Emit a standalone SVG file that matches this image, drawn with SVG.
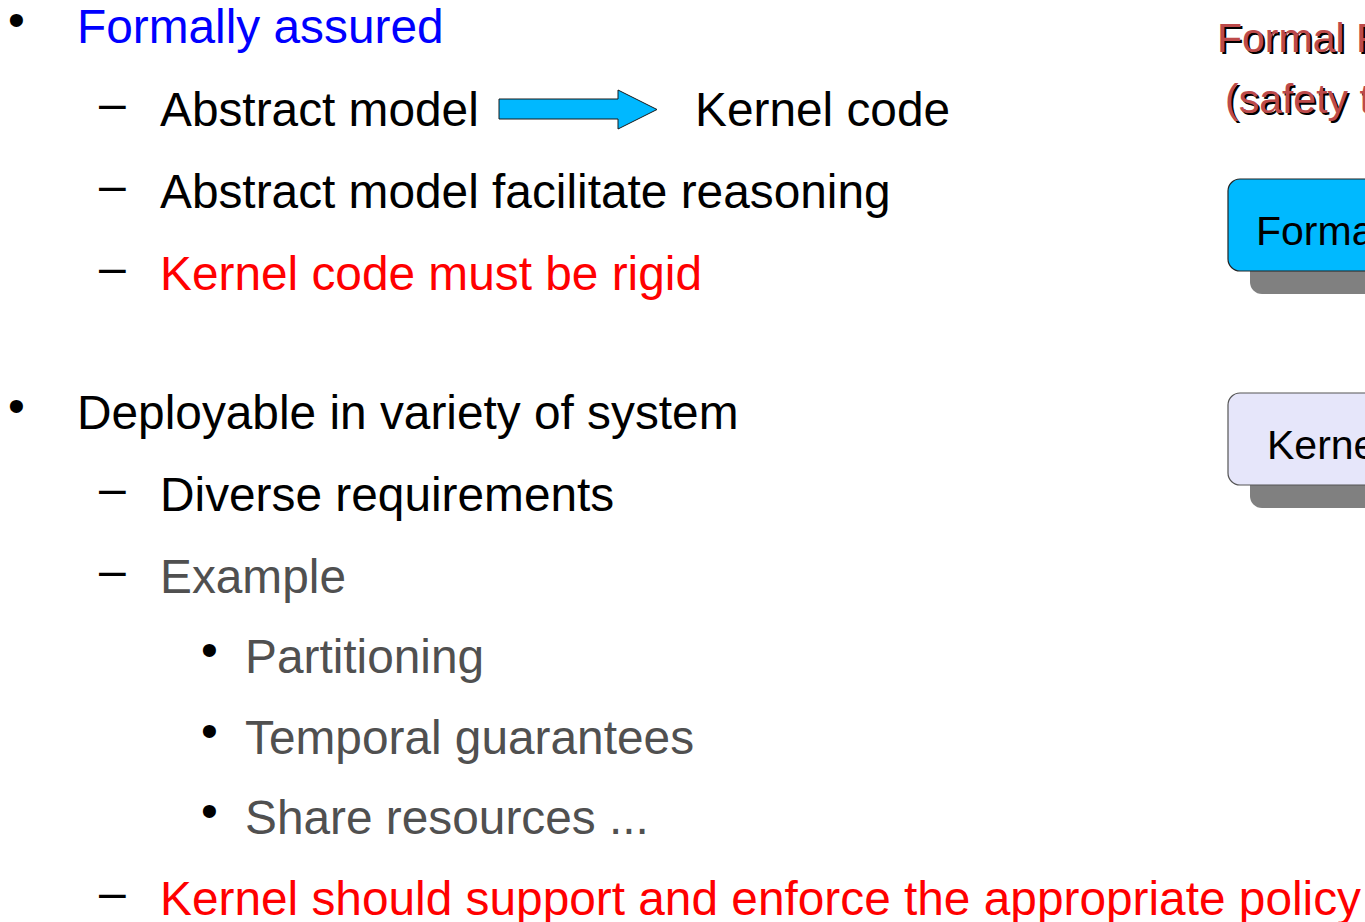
<svg xmlns="http://www.w3.org/2000/svg" width="1365" height="922" viewBox="0 0 1365 922">
  <style>
    text { font-family: "Liberation Sans", Arial, sans-serif; }
    .l1 { font-size: 47.8px; fill: #000; }
    .blue { fill: #0000ff; }
    .red { fill: #ff0000; }
    .gray { fill: #505050; }
    .mark { font-size: 48px; fill: #000; }
    .title { font-size: 41px; fill: #bd4a4a; }
    .shadowtxt { font-size: 41px; fill: #000; }
    .box { font-size: 41px; fill: #000; }
  </style>

  <rect width="1365" height="922" fill="#ffffff"/>

  <!-- bullet list -->
  <g id="list">
    <text class="mark" x="8" y="36">•</text>
    <text class="l1 blue" x="77" y="43">Formally assured</text>

    <text class="mark" x="99" y="120">–</text>
    <text class="l1" x="160" y="126">Abstract model</text>
    <text class="l1" x="695" y="126">Kernel code</text>

    <text class="mark" x="99" y="202">–</text>
    <text class="l1" x="160" y="208">Abstract model facilitate reasoning</text>

    <text class="mark" x="99" y="284">–</text>
    <text class="l1 red" x="160" y="290">Kernel code must be rigid</text>

    <text class="mark" x="8" y="422">•</text>
    <text class="l1" x="77" y="429">Deployable in variety of system</text>

    <text class="mark" x="99" y="505">–</text>
    <text class="l1" x="160" y="511">Diverse requirements</text>

    <text class="mark" x="99" y="587">–</text>
    <text class="l1 gray" x="160" y="593">Example</text>

    <text class="mark" x="201" y="666">•</text>
    <text class="l1 gray" x="245" y="673">Partitioning</text>

    <text class="mark" x="201" y="747">•</text>
    <text class="l1 gray" x="245" y="754">Temporal guarantees</text>

    <text class="mark" x="201" y="827">•</text>
    <text class="l1 gray" x="245" y="834">Share resources ...</text>

    <text class="mark" x="99" y="909">–</text>
    <text class="l1 red" x="160" y="915">Kernel should support and enforce the appropriate policy</text>
  </g>

  <!-- refinement arrow -->
  <g id="connectors">
    <polygon points="499,99 618,99 618,90 657,109.5 618,129 618,119 499,119" fill="#00b8ff" stroke="#1a1a1a" stroke-width="1"/>
  </g>

  <!-- right-hand heading -->
  <g id="heading">
    <text class="shadowtxt" x="1219" y="54">Formal Proof</text>
    <text class="title" x="1217" y="52">Formal Proof</text>
    <text class="shadowtxt" x="1227" y="115">(safety theorems)</text>
    <text class="title" x="1225" y="113">(safety theorems)</text>
  </g>

  <g id="node-formal">
    <rect x="1250" y="202" width="200" height="92" rx="12" fill="#808080"/>
    <rect x="1228" y="179" width="200" height="92" rx="12" fill="#00b9ff" stroke="#222" stroke-width="1.2"/>
    <text class="box" x="1256" y="245">Formal Model</text>
  </g>

  <g id="node-kernel">
    <rect x="1250" y="416" width="200" height="92" rx="12" fill="#808080"/>
    <rect x="1228" y="393" width="200" height="92" rx="12" fill="#e6e6fa" stroke="#555" stroke-width="1.2"/>
    <text class="box" x="1267" y="459">Kernel</text>
  </g>
</svg>
